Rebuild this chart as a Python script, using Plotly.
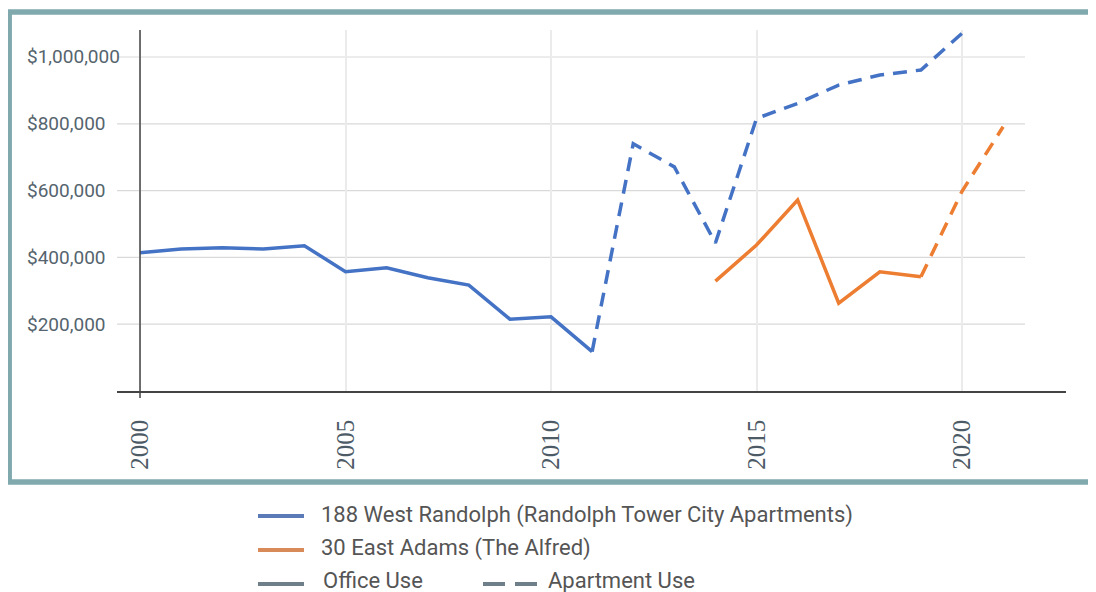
import plotly.graph_objects as go

# ---- data (values in dollars) ----
randolph_office_years = [2000, 2001, 2002, 2003, 2004, 2005, 2006, 2007, 2008, 2009, 2010, 2011]
randolph_office_vals = [414000, 425000, 429000, 425000, 435000, 357000, 369000, 339000, 317000, 215000, 222000, 118000]
randolph_apt_years = [2011, 2012, 2013, 2014, 2015, 2016, 2017, 2018, 2019, 2020]
randolph_apt_vals = [118000, 740000, 671000, 443000, 816000, 861000, 916000, 946000, 961000, 1071000]
adams_office_years = [2014, 2015, 2016, 2017, 2018, 2019]
adams_office_vals = [329000, 437000, 572000, 263000, 357000, 342000]
adams_apt_years = [2019, 2020, 2021]
adams_apt_vals = [342000, 598000, 791000]

x_tick_vals = [2000, 2005, 2010, 2015, 2020]
x_tick_text = ["2000", "2005", "2010", "2015", "2020"]
y_tick_vals = [200000, 400000, 600000, 800000, 1000000]
y_tick_text = ["$200,000", "$400,000", "$600,000", "$800,000", "$1,000,000"]

legend_labels = ["188 West Randolph (Randolph Tower City Apartments)", "30 East Adams (The Alfred)",
                 "Office Use", "Apartment Use"]

BLUE = "#4472C4"
ORANGE = "#ED7D31"
OFF = 8  # page body margin; positions below are given in window pixels
W, H = 1096 - OFF, 592 - OFF
ML, MT = 117 - OFF, 30 - OFF
PR, PB = 1066 - OFF, 391 - OFF
MR, MB = W - PR, H - PB
PW, PH = PR - ML, PB - MT


def px(xp):
    return (xp - OFF - ML) / PW


def py(yp):
    return (PB - (yp - OFF)) / PH


fig = go.Figure()
fig.add_trace(go.Scatter(x=randolph_office_years, y=randolph_office_vals, mode="lines",
                         line=dict(color=BLUE, width=3.5), showlegend=False))
fig.add_trace(go.Scatter(x=randolph_apt_years, y=randolph_apt_vals, mode="lines",
                         line=dict(color=BLUE, width=3.5, dash="14px,9px"), showlegend=False))
fig.add_trace(go.Scatter(x=adams_office_years, y=adams_office_vals, mode="lines",
                         line=dict(color=ORANGE, width=3.5), showlegend=False))
fig.add_trace(go.Scatter(x=adams_apt_years, y=adams_apt_vals, mode="lines",
                         line=dict(color=ORANGE, width=3.5, dash="14px,9px"), showlegend=False))

shapes = []
# horizontal gridlines
for v in y_tick_vals:
    shapes.append(dict(type="line", xref="paper", yref="y", x0=0, x1=px(1025), y0=v, y1=v,
                       line=dict(color="#d9d9d9", width=1.2), layer="below"))
# vertical axis line at 2000
shapes.append(dict(type="line", xref="x", yref="paper", x0=2000, x1=2000, y0=py(398), y1=1,
                   line=dict(color="#444444", width=1.5)))
# teal border
shapes.append(dict(type="rect", xref="paper", yref="paper", x0=px(9.2), x1=px(1110), y0=py(482), y1=py(12),
                   line=dict(color="#80a9ae", width=5.5), layer="below"))
# legend swatches
shapes.append(dict(type="line", xref="paper", yref="paper", x0=px(258), x1=px(304), y0=py(516), y1=py(516),
                   line=dict(color="#5a7bb8", width=4)))
shapes.append(dict(type="line", xref="paper", yref="paper", x0=px(258), x1=px(304), y0=py(550), y1=py(550),
                   line=dict(color="#d88b58", width=4)))
shapes.append(dict(type="line", xref="paper", yref="paper", x0=px(258), x1=px(304), y0=py(584), y1=py(584),
                   line=dict(color="#6f7f8a", width=4)))
shapes.append(dict(type="line", xref="paper", yref="paper", x0=px(483), x1=px(505), y0=py(584), y1=py(584),
                   line=dict(color="#6f7f8a", width=4)))
shapes.append(dict(type="line", xref="paper", yref="paper", x0=px(515), x1=px(537), y0=py(584), y1=py(584),
                   line=dict(color="#6f7f8a", width=4)))

annotations = []
for v, t in zip(y_tick_vals, y_tick_text):
    annotations.append(dict(xref="paper", yref="y", x=px(25), y=v, text=t, showarrow=False,
                            xanchor="left", yanchor="middle",
                            font=dict(family="Roboto", size=19, color="#55646e")))
LF = dict(family="Roboto", size=22, color="#555555")
annotations.append(dict(xref="paper", yref="paper", x=px(319), y=py(515), text=legend_labels[0], showarrow=False,
                        xanchor="left", yanchor="middle", font=LF))
annotations.append(dict(xref="paper", yref="paper", x=px(319), y=py(548), text=legend_labels[1], showarrow=False,
                        xanchor="left", yanchor="middle", font=LF))
annotations.append(dict(xref="paper", yref="paper", x=px(321), y=py(580), text=legend_labels[2], showarrow=False,
                        xanchor="left", yanchor="middle", font=LF))
annotations.append(dict(xref="paper", yref="paper", x=px(546), y=py(580), text=legend_labels[3], showarrow=False,
                        xanchor="left", yanchor="middle", font=LF))

fig.update_layout(
    width=W, height=H,
    margin=dict(l=ML, r=MR, t=MT, b=MB, pad=0),
    paper_bgcolor="white", plot_bgcolor="white",
    showlegend=False,
    shapes=shapes, annotations=annotations,
    xaxis=dict(range=[1999.44, 2022.53], tickvals=x_tick_vals, ticktext=x_tick_text, tickangle=-90,
               showgrid=True, gridcolor="#ebebeb", gridwidth=1.5, zeroline=False,
               showline=True, linecolor="#444444", linewidth=1.5, ticks="",
               ticklabelstandoff=17,
               tickfont=dict(family="Liberation Sans Narrow", size=25, color="#4d5b66")),
    yaxis=dict(range=[0, 1080800], showgrid=False, zeroline=False, showline=False,
               showticklabels=False, ticks=""),
)

fig.write_html("out.html")
